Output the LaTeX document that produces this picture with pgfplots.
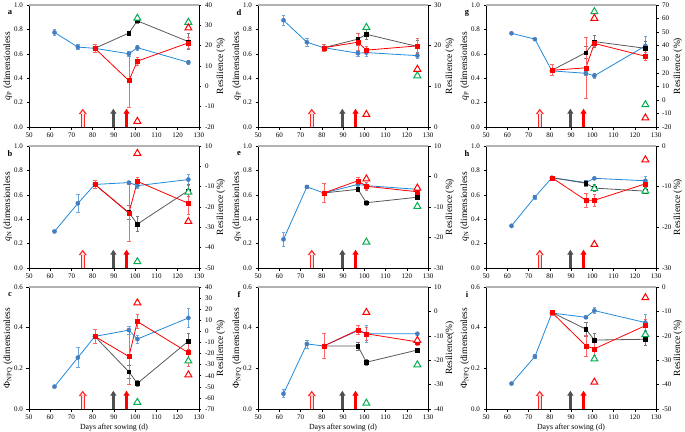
\documentclass[border=0pt]{standalone}
\usepackage{pgfplots}
\pgfplotsset{compat=1.18}
\usepackage{fontspec}
\setmainfont{Liberation Serif}
\usetikzlibrary{arrows.meta}

\definecolor{cblue}{RGB}{31,137,219}
\definecolor{cbluem}{RGB}{70,125,190}
\definecolor{cblueerr}{RGB}{110,165,220}
\definecolor{cred}{RGB}{255,0,0}
\definecolor{crederr}{RGB}{255,100,100}
\definecolor{cgreyl}{RGB}{89,89,89}
\definecolor{cgreyerr}{RGB}{120,120,120}
\definecolor{cgreen}{RGB}{0,176,80}
\definecolor{carrow}{RGB}{80,80,80}

\pgfplotsset{
  base/.style={scale only axis, width=170pt, height=122pt, xmin=50, xmax=130, clip=false,
    anchor=north west,
    tick align=outside, major tick length=2.5pt,
    every tick/.style={black, line width=0.5pt},
    axis line style={black, line width=0.6pt},
    tick label style={font=\fontsize{7}{8}\selectfont},
    /pgf/number format/assume math mode=true,
    label style={font=\fontsize{9.5}{10}\selectfont},
    xlabel style={font=\fontsize{7.8}{9}\selectfont, yshift=3pt},
  },
  leftax/.style={base, axis x line*=bottom, axis y line*=left, xtick={50,60,...,130}, ymin=0,
    yticklabel style={/pgf/number format/.cd, fixed, fixed zerofill, precision=1},
    ylabel style={at={(axis description cs:-0.124,0.5)}, anchor=center}},
  rightax/.style={base, axis x line=none, axis y line*=right,
    ylabel style={at={(axis description cs:1.128,0.5)}, anchor=center}},
  sblue/.style={color=cblue, line width=0.8pt, mark=*, mark size=2.1pt,
    mark options={fill=cbluem, draw=cbluem, line width=0.4pt},
    error bars/.cd, y dir=both, y explicit,
    error bar style={cblueerr, line width=0.7pt},
    error mark options={rotate=90, mark size=1.8pt, cblueerr, line width=0.7pt}},
  sred/.style={color=cred, line width=0.8pt, mark=square*, mark size=2pt,
    mark options={fill=cred, draw=cred, line width=0.4pt},
    error bars/.cd, y dir=both, y explicit,
    error bar style={crederr, line width=0.7pt},
    error mark options={rotate=90, mark size=1.8pt, crederr, line width=0.7pt}},
  sblack/.style={color=cgreyl, line width=0.8pt, mark=square*, mark size=1.8pt,
    mark options={fill=black, draw=black, line width=0.4pt},
    error bars/.cd, y dir=both, y explicit,
    error bar style={cgreyerr, line width=0.7pt},
    error mark options={rotate=90, mark size=1.8pt, cgreyerr, line width=0.7pt}},
  tgreen/.style={only marks, mark=triangle*, mark size=4pt,
    mark options={draw=cgreen, fill=white, line width=1pt}},
  tred/.style={only marks, mark=triangle*, mark size=4pt,
    mark options={draw=cred, fill=white, line width=1pt}},
}

\newcommand{\myarrows}[2]{%
  \addplot[quiver={u=0,v=#1}, -{Triangle[length=5.5pt,width=8pt]}, line width=4pt, red!85] coordinates {(75.3,0)};
  \addplot[quiver={u=0,v=#2}, -{Triangle[length=3pt,width=4pt]}, line width=1.8pt, red!12] coordinates {(75.3,0)};
  \addplot[quiver={u=0,v=#1}, -{Triangle[length=5pt,width=6pt]}, line width=2.6pt, carrow] coordinates {(89.7,0)};
  \addplot[quiver={u=0,v=#1}, -{Triangle[length=5pt,width=6pt]}, line width=2.6pt, cred] coordinates {(95.9,0)};
}
\newcommand{\deco}[1]{%
  \draw[gray!60, line width=1.2pt] (rel axis cs:0,1) -- (rel axis cs:1,1);
  \node[font=\bfseries\fontsize{8.5}{9}\selectfont] at (rel axis cs:0,1) [xshift=-19pt, yshift=-8pt] {#1};
}

\begin{document}
\begin{tikzpicture}
\useasboundingbox (0,0) rectangle (685pt,-431pt);

%% ---------------- panel a ----------------
\begin{axis}[leftax, at={(29pt,-5pt)}, ymax=1, ytick={0,0.2,0.4,0.6,0.8,1},
  ylabel={\textit{q}\textsubscript{P} (dimensionless}]
\myarrows{0.15}{0.133}
\addplot[sblue] coordinates {(62,0.775)+-(0,0.025) (73,0.655)+-(0,0.02) (81,0.645)+-(0,0.01) (97,0.60)+-(0,0.02) (101,0.65)+-(0,0.02) (125,0.53)+-(0,0.02)};
\addplot[sblack] coordinates {(81,0.645)+-(0,0) (97,0.77)+-(0,0.01) (101,0.87)+-(0,0.02) (125,0.70)+-(0,0.065)};
\addplot[sred] coordinates {(81,0.645)+-(0,0.035) (97,0.38)+-(0,0.22) (101,0.54)+-(0,0.035) (125,0.69)+-(0,0.045)};
\deco{a}
\end{axis}
\begin{axis}[rightax, at={(29pt,-5pt)}, ymin=-20, ymax=40, ytick={-20,-10,...,40}, ylabel={Resilience (\%)}]
\addplot[tgreen] coordinates {(101,33.5) (125,31.5)};
\addplot[tred] coordinates {(125,28.7) (101,-17.2)};
\end{axis}

%% ---------------- panel b ----------------
\begin{axis}[leftax, at={(29pt,-146pt)}, ymax=1, ytick={0,0.2,0.4,0.6,0.8,1},
  ylabel={\textit{q}\textsubscript{N} (dimensionless}]
\myarrows{0.15}{0.133}
\addplot[sblue] coordinates {(62,0.30)+-(0,0.01) (73,0.53)+-(0,0.075) (81,0.685)+-(0,0.01) (97,0.70)+-(0,0.01) (101,0.675)+-(0,0.02) (125,0.725)+-(0,0.045)};
\addplot[sblack] coordinates {(81,0.685)+-(0,0) (97,0.455)+-(0,0.06) (101,0.36)+-(0,0.06) (125,0.635)+-(0,0.05)};
\addplot[sred] coordinates {(81,0.685)+-(0,0.035) (97,0.45)+-(0,0.235) (101,0.71)+-(0,0.035) (125,0.53)+-(0,0.09)};
\deco{b}
\end{axis}
\begin{axis}[rightax, at={(29pt,-146pt)}, ymin=-50, ymax=10, ytick={-50,-40,...,10}, ylabel={Resilience (\%)}]
\addplot[tgreen] coordinates {(125,-12.7) (101,-46.9)};
\addplot[tred] coordinates {(101,6.4) (125,-27.1)};
\end{axis}

%% ---------------- panel c ----------------
\begin{axis}[leftax, at={(29pt,-287pt)}, ymax=0.6, ytick={0,0.2,0.4,0.6},
  ylabel={Φ\textsubscript{NPQ} (dimensionless}, xlabel={Days after sowing (d)}]
\myarrows{0.09}{0.08}
\addplot[sblue] coordinates {(62,0.11)+-(0,0.005) (73,0.253)+-(0,0.05) (81,0.357)+-(0,0.01) (97,0.388)+-(0,0.02) (101,0.344)+-(0,0.02) (125,0.448)+-(0,0.045)};
\addplot[sblack] coordinates {(81,0.357)+-(0,0) (97,0.183)+-(0,0.03) (101,0.126)+-(0,0.015) (125,0.334)+-(0,0.04)};
\addplot[sred] coordinates {(81,0.357)+-(0,0.035) (97,0.258)+-(0,0.135) (101,0.43)+-(0,0.035) (125,0.277)+-(0,0.065)};
\deco{c}
\end{axis}
\begin{axis}[rightax, at={(29pt,-287pt)}, ymin=-70, ymax=40, ytick={-70,-60,...,40}, ylabel={Resilience (\%)}]
\addplot[tgreen] coordinates {(125,-26.7) (101,-64)};
\addplot[tred] coordinates {(101,25.7) (125,-39.2)};
\end{axis}

%% ---------------- panel d ----------------
\begin{axis}[leftax, at={(258pt,-5pt)}, ymax=1, ytick={0,0.2,0.4,0.6,0.8,1},
  ylabel={\textit{q}\textsubscript{P} (dimensionless}]
\myarrows{0.15}{0.133}
\addplot[sblue] coordinates {(62,0.875)+-(0,0.04) (73,0.695)+-(0,0.03) (81,0.65)+-(0,0.01) (97,0.605)+-(0,0.025) (101,0.61)+-(0,0.03) (125,0.585)+-(0,0.02)};
\addplot[sblack] coordinates {(81,0.65)+-(0,0) (97,0.72)+-(0,0.05) (101,0.76)+-(0,0.04) (125,0.66)+-(0,0.05)};
\addplot[sred] coordinates {(81,0.65)+-(0,0.03) (97,0.695)+-(0,0.075) (101,0.63)+-(0,0.03) (125,0.665)+-(0,0.06)};
\deco{d}
\end{axis}
\begin{axis}[rightax, at={(258pt,-5pt)}, ymin=0, ymax=30, ytick={0,10,20,30}, ylabel={Resilience (\%)}]
\addplot[tgreen] coordinates {(101,24.5) (125,12.6)};
\addplot[tred] coordinates {(125,14.2) (101,3.1)};
\end{axis}

%% ---------------- panel e ----------------
\begin{axis}[leftax, at={(258pt,-146pt)}, ymax=1, ytick={0,0.2,0.4,0.6,0.8,1},
  ylabel={\textit{q}\textsubscript{N} (dimensionless}]
\myarrows{0.15}{0.133}
\addplot[sblue] coordinates {(62,0.235)+-(0,0.06) (73,0.665)+-(0,0.01) (81,0.615)+-(0,0.01) (97,0.685)+-(0,0.02) (101,0.675)+-(0,0.03) (125,0.645)+-(0,0.01)};
\addplot[sblack] coordinates {(81,0.615)+-(0,0) (97,0.645)+-(0,0.02) (101,0.535)+-(0,0.02) (125,0.58)+-(0,0.01)};
\addplot[sred] coordinates {(81,0.615)+-(0,0.075) (97,0.715)+-(0,0.03) (101,0.67)+-(0,0.03) (125,0.625)+-(0,0.02)};
\deco{e}
\end{axis}
\begin{axis}[rightax, at={(258pt,-146pt)}, ymin=-30, ymax=10, ytick={-30,-20,...,10}, ylabel={Resilience (\%)}]
\addplot[tgreen] coordinates {(125,-9.8) (101,-21.5)};
\addplot[tred] coordinates {(101,-0.8) (125,-3.8)};
\end{axis}

%% ---------------- panel f ----------------
\begin{axis}[leftax, at={(258pt,-287pt)}, ymax=0.6, ytick={0,0.2,0.4,0.6},
  ylabel={Φ\textsubscript{NPQ} (dimensionless}, xlabel={Days after sowing (d)}]
\myarrows{0.09}{0.08}
\addplot[sblue] coordinates {(62,0.075)+-(0,0.02) (73,0.32)+-(0,0.02) (81,0.31)+-(0,0.01) (97,0.385)+-(0,0.01) (101,0.37)+-(0,0.04) (125,0.37)+-(0,0.005)};
\addplot[sblack] coordinates {(81,0.31)+-(0,0) (97,0.31)+-(0,0.02) (101,0.23)+-(0,0.015) (125,0.29)+-(0,0.005)};
\addplot[sred] coordinates {(81,0.31)+-(0,0.06) (97,0.389)+-(0,0.02) (101,0.37)+-(0,0.03) (125,0.33)+-(0,0.015)};
\deco{f}
\end{axis}
\begin{axis}[rightax, at={(258pt,-287pt)}, ymin=-40, ymax=10, ytick={-40,-30,...,10}, ylabel={Resilience(\%)}]
\addplot[tgreen] coordinates {(125,-21.9) (101,-37.6)};
\addplot[tred] coordinates {(101,-0.4) (125,-11.9)};
\end{axis}

%% ---------------- panel g ----------------
\begin{axis}[leftax, at={(486pt,-5pt)}, ymax=1, ytick={0,0.2,0.4,0.6,0.8,1},
  ylabel={\textit{q}\textsubscript{P} (dimensionless}]
\myarrows{0.15}{0.133}
\addplot[sblue] coordinates {(62,0.768)+-(0,0.005) (73,0.72)+-(0,0.005) (81,0.46)+-(0,0.01) (97,0.44)+-(0,0.02) (101,0.42)+-(0,0.02) (125,0.665)+-(0,0.08)};
\addplot[sblack] coordinates {(81,0.465)+-(0,0) (97,0.61)+-(0,0.05) (101,0.70)+-(0,0.05) (125,0.645)+-(0,0.06)};
\addplot[sred] coordinates {(81,0.465)+-(0,0.045) (97,0.485)+-(0,0.25) (101,0.685)+-(0,0.02) (125,0.58)+-(0,0.03)};
\deco{g}
\end{axis}
\begin{axis}[rightax, at={(486pt,-5pt)}, ymin=-20, ymax=70, ytick={-20,-10,...,70}, ylabel={Resilience (\%)}]
\addplot[tgreen] coordinates {(101,65.1) (125,-3.5)};
\addplot[tred] coordinates {(101,60.2) (125,-13.3)};
\end{axis}

%% ---------------- panel h ----------------
\begin{axis}[leftax, at={(486pt,-146pt)}, ymax=1, ytick={0,0.2,0.4,0.6,0.8,1},
  ylabel={\textit{q}\textsubscript{N} (dimensionless}]
\myarrows{0.15}{0.133}
\addplot[sblue] coordinates {(62,0.346)+-(0,0.015) (73,0.581)+-(0,0.015) (81,0.74)+-(0,0.005) (97,0.70)+-(0,0.02) (101,0.735)+-(0,0.01) (125,0.715)+-(0,0.04)};
\addplot[sblack] coordinates {(81,0.74)+-(0,0) (97,0.695)+-(0,0.025) (101,0.655)+-(0,0.03) (125,0.63)+-(0,0.02)};
\addplot[sred] coordinates {(81,0.74)+-(0,0.005) (97,0.555)+-(0,0.06) (101,0.555)+-(0,0.05) (125,0.69)+-(0,0.03)};
\deco{h}
\end{axis}
\begin{axis}[rightax, at={(486pt,-146pt)}, ymin=-30, ymax=0, ytick={-30,-20,-10,0}, ylabel={Resilience (\%)}]
\addplot[tgreen] coordinates {(101,-10.5) (125,-11.1)};
\addplot[tred] coordinates {(125,-3.4) (101,-24.2)};
\end{axis}

%% ---------------- panel i ----------------
\begin{axis}[leftax, at={(486pt,-287pt)}, ymax=0.6, ytick={0,0.2,0.4,0.6},
  ylabel={Φ\textsubscript{NPQ} (dimensionless}, xlabel={Days after sowing (d)}]
\myarrows{0.09}{0.08}
\addplot[sblue] coordinates {(62,0.125)+-(0,0.005) (73,0.258)+-(0,0.01) (81,0.472)+-(0,0.01) (97,0.451)+-(0,0.005) (101,0.484)+-(0,0.015) (125,0.425)+-(0,0.04)};
\addplot[sblack] coordinates {(81,0.475)+-(0,0) (97,0.393)+-(0,0.035) (101,0.339)+-(0,0.035) (125,0.343)+-(0,0.03)};
\addplot[sred] coordinates {(81,0.475)+-(0,0.012) (97,0.311)+-(0,0.05) (101,0.296)+-(0,0.03) (125,0.41)+-(0,0.03)};
\deco{i}
\end{axis}
\begin{axis}[rightax, at={(486pt,-287pt)}, ymin=-50, ymax=0, ytick={-50,-40,...,0}, ylabel={Resilience (\%)}]
\addplot[tgreen] coordinates {(125,-19.5) (101,-29.5)};
\addplot[tred] coordinates {(125,-4.4) (101,-39)};
\end{axis}

\end{tikzpicture}
\end{document}
